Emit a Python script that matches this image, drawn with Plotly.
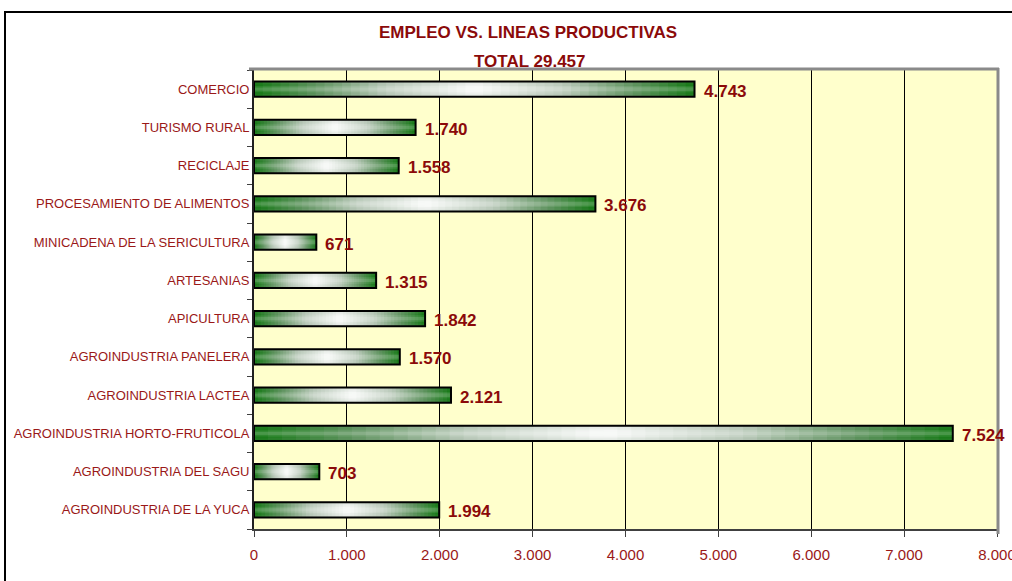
import plotly.graph_objects as go

# ---------------- data ----------------
categories = [
    "AGROINDUSTRIA DE LA YUCA",
    "AGROINDUSTRIA DEL SAGU",
    "AGROINDUSTRIA HORTO-FRUTICOLA",
    "AGROINDUSTRIA LACTEA",
    "AGROINDUSTRIA PANELERA",
    "APICULTURA",
    "ARTESANIAS",
    "MINICADENA DE LA SERICULTURA",
    "PROCESAMIENTO DE ALIMENTOS",
    "RECICLAJE",
    "TURISMO RURAL",
    "COMERCIO",
]
empleo = [1994, 703, 7524, 2121, 1570, 1842, 1315, 671, 3676, 1558, 1740, 4743]
x_tick_values = [0, 1000, 2000, 3000, 4000, 5000, 6000, 7000, 8000]
x_tick_labels = ["0", "1.000", "2.000", "3.000", "4.000", "5.000", "6.000", "7.000", "8.000"]
title_line1 = "EMPLEO VS. LINEAS PRODUCTIVAS"
title_line2 = "TOTAL 29.457"

# ---------------- styling ----------------
MAROON = "#8B0A0A"
LABEL_RED = "#9A1818"
FONT = "Liberation Sans"
BAR_W = 0.40
N_SEG = 50

# plot area in pixels
W, H = 1012, 581
L, R, T, B = 254, 15, 70, 52
PW, PH = W - L - R, H - T - B


def px_x(px):
    return (px - L) / PW


def px_y(py):
    return 1 - (py - T) / PH


def lerp(a, b, f):
    return tuple(a[i] + (b[i] - a[i]) * f for i in range(3))


stops = [(0.0, (248, 250, 248)), (0.40, (190, 205, 190)), (0.72, (95, 148, 95)), (1.0, (16, 120, 16))]


def grad(t):
    d = min(1.0, abs(t - 0.5) * 2)
    for (d0, c0), (d1, c1) in zip(stops[:-1], stops[1:]):
        if d0 <= d <= d1:
            return lerp(c0, c1, (d - d0) / (d1 - d0))
    return stops[-1][1]


def rgb(c):
    return "rgb(%d,%d,%d)" % tuple(int(round(v)) for v in c)


fig = go.Figure()

# layered cylinder-like gradient bars: (relative width, shade toward grey, lighten)
GREY = (120, 140, 120)
layers = [
    (1.00, 0.16, 0.0),
    (0.80, 0.10, 0.0),
    (0.60, 0.05, 0.0),
    (0.40, 0.00, 0.10),
    (0.20, 0.00, 0.22),
]
for rel_w, shade, light in layers:
    for i in range(N_SEG):
        t = (i + 0.5) / N_SEG
        c = grad(t)
        c = lerp(c, GREY, shade)
        c = lerp(c, (255, 255, 255), light)
        span = 1.0 / N_SEG * (2.0 if i < N_SEG - 1 else 1.0)
        fig.add_trace(go.Bar(
            y=categories,
            x=[v * span for v in empleo],
            base=[v * i / N_SEG for v in empleo],
            orientation="h",
            width=BAR_W * rel_w,
            marker=dict(color=rgb(c), line=dict(width=0)),
            hoverinfo="skip",
            showlegend=False,
        ))

# outline
fig.add_trace(go.Bar(
    y=categories,
    x=empleo,
    orientation="h",
    width=BAR_W,
    marker=dict(color="rgba(0,0,0,0)", line=dict(color="black", width=2)),
    hoverinfo="skip",
    showlegend=False,
))

annotations = []
for cat, v in zip(categories, empleo):
    annotations.append(dict(
        x=v, y=cat, xref="x", yref="y",
        text=f"{v:,}".replace(",", "."),
        showarrow=False, xanchor="left", yanchor="middle",
        xshift=7, yshift=-2,
        font=dict(family=FONT, size=17, color=MAROON, weight="bold"),
    ))

annotations.append(dict(
    x=px_x(528), y=px_y(33), xref="paper", yref="paper",
    text=title_line1, showarrow=False, xanchor="center", yanchor="middle",
    font=dict(family=FONT, size=17, color=MAROON, weight="bold"),
))
annotations.append(dict(
    x=px_x(530), y=px_y(61), xref="paper", yref="paper",
    text=title_line2, showarrow=False, xanchor="center", yanchor="middle",
    font=dict(family=FONT, size=17, color=MAROON, weight="bold"),
))

shapes = [
    # outer chart border (left and top visible)
    dict(type="rect", xref="paper", yref="paper",
         x0=px_x(5), x1=px_x(1040), y0=px_y(600), y1=px_y(12),
         line=dict(color="black", width=2), fillcolor="rgba(0,0,0,0)", layer="below"),
    # gray frame top and right
    dict(type="line", xref="paper", yref="paper",
         x0=px_x(249), x1=px_x(999), y0=px_y(69), y1=px_y(69),
         line=dict(color="#8a8a8a", width=3)),
    dict(type="line", xref="paper", yref="paper",
         x0=px_x(998), x1=px_x(998), y0=px_y(68), y1=px_y(534),
         line=dict(color="#8a8a8a", width=3)),
]

fig.update_layout(
    width=W, height=H,
    margin=dict(l=L, r=R, t=T, b=B, pad=0, autoexpand=False),
    paper_bgcolor="white",
    plot_bgcolor="#FFFFCC",
    barmode="overlay",
    showlegend=False,
    hovermode=False,
    annotations=annotations,
    shapes=shapes,
    xaxis=dict(
        range=[0, 8000],
        tickvals=x_tick_values,
        ticktext=x_tick_labels,
        showgrid=True, gridcolor="black", gridwidth=1,
        ticks="outside", ticklen=6, tickcolor="#404040", tickwidth=1,
        ticklabelstandoff=5,
        ticklabeloverflow="allow",
        automargin=False,
        showline=True, linecolor="#404040", linewidth=2,
        zeroline=False,
        tickfont=dict(family=FONT, size=15, color=LABEL_RED),
        fixedrange=True,
    ),
    yaxis=dict(
        type="category",
        categoryorder="array", categoryarray=categories,
        range=[-0.5, len(categories) - 0.5],
        tickson="boundaries",
        ticks="outside", ticklen=5, tickcolor="#404040",
        showline=True, linecolor="#202020", linewidth=2,
        showgrid=False, zeroline=False,
        automargin=False,
        tickfont=dict(family=FONT, size=13, color=LABEL_RED),
        fixedrange=True,
    ),
)

fig.write_html(
    "out.html",
    config={"displayModeBar": False},
    post_script="document.body.style.margin='0';document.body.style.overflow='hidden';",
)
